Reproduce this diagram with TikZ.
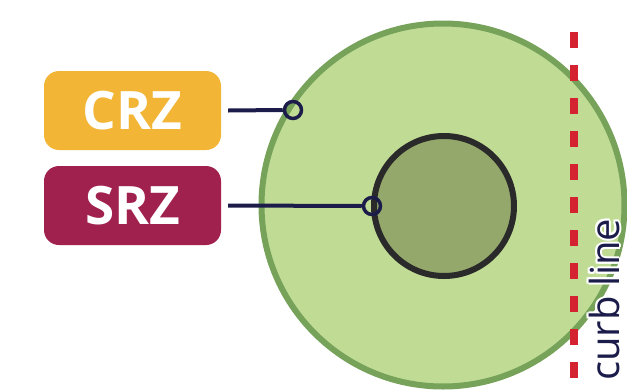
\documentclass[tikz,border=0pt]{standalone}
\usepackage{fontspec}
\setmainfont{Open Sans}
\begin{document}
\begin{tikzpicture}[x=1pt,y=-1pt,
  zonebox/.style={rounded corners=15pt, minimum width=177pt, minimum height=79pt, inner sep=0pt, text=white, font=\fontsize{53}{53}\selectfont\bfseries},
  leader/.style={draw=navy, line width=4pt},
  tip/.style={circle, draw=navy, line width=3.5pt, minimum size=17pt, inner sep=0pt},
  curbtext/.style={rotate=90, anchor=base west, inner sep=0pt, text depth=0pt, font=\fontsize{40}{40}\selectfont}]
\definecolor{navy}{HTML}{1B1C4A}
\definecolor{crzc}{HTML}{F2B536}
\definecolor{srzc}{HTML}{A0204E}
\definecolor{outerfill}{HTML}{C0DC94}
\definecolor{outerline}{HTML}{76A25A}
\definecolor{innerfill}{HTML}{93A86A}
\definecolor{innerline}{HTML}{2A2A2A}
\definecolor{curbred}{HTML}{D42230}
\useasboundingbox (0,0) rectangle (627,389);
\node[circle, fill=outerfill, draw=outerline, line width=6pt, minimum size=363pt, inner sep=0pt] (outer) at (443,205) {};
\node[circle, fill=innerfill, draw=innerline, line width=6pt, minimum size=140pt, inner sep=0pt] (inner) at (444,206) {};
\node[zonebox, fill=crzc] (crz) at (132.5,110.5) {CRZ};
\node[zonebox, fill=srzc] (srz) at (132.5,205.5) {SRZ};
\node[tip] (ct) at (293,110) {};
\node[tip] (st) at (372,206) {};
\draw[leader] ([xshift=7pt]crz.east) -- (ct.west);
\draw[leader] ([xshift=7pt]srz.east) -- (st.west);
\coordinate (ctop) at (574,32);
\coordinate (cbot) at (574,389);
\draw[curbred, line width=8pt, dash pattern=on 16pt off 17pt] (ctop) -- (cbot);
\foreach \dx/\dy [count=\i] in {2/0,-2/0,0/2,0/-2,1.5/1.5,-1.5/1.5,1.5/-1.5,-1.5/-1.5}
  \node[curbtext, text=white] (halo\i) at (619+\dx,381+\dy) {curb line};
\node[curbtext, text=navy] (curb) at (619,381) {curb line};
\end{tikzpicture}
\end{document}
